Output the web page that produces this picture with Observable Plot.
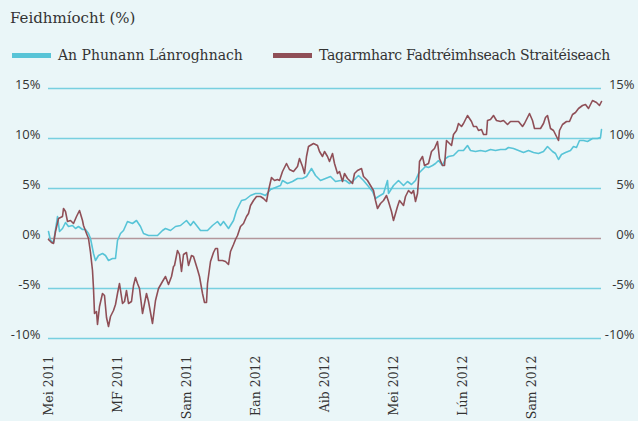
<!DOCTYPE html>
<html>
<head>
<meta charset="utf-8">
<script src="https://cdn.jsdelivr.net/npm/d3@7"></script>
<script src="https://cdn.jsdelivr.net/npm/@observablehq/plot@0.6"></script>
<style>
  html, body { margin: 0; padding: 0; background: #eaf6f8; width: 638px; height: 421px; overflow: hidden; }
  #title { height: 36px; box-sizing: border-box; padding: 9px 0 0 10px; line-height: 20px; font: 15px "DejaVu Serif"; color: #333; }
  #legend { position: relative; height: 34px; font: 14px "DejaVu Serif"; color: #333; }
  .item { position: absolute; top: 9px; height: 20px; line-height: 20px; display: flex; align-items: center; white-space: nowrap; }
  .sw { width: 39px; height: 5px; margin-right: 7px; }
  #chart svg { display: block; }
</style>
</head>
<body>
<div id="title">Feidhmíocht (%)</div>
<div id="legend"></div>
<div id="chart"></div>
<script>
// Series names and colours
const seriesNames = ["An Phunann Lánroghnach", "Tagarmharc Fadtréimhseach Straitéiseach"];
const seriesColors = ["#58c4d7", "#8f4f57"];

// Trading-day index (0 .. 553) and performance values (%)
const dayPortfolio = [0,2,5,9,11,14,17,20,24,27,30,34,37,40,42,45,47,50,54,57,60,64,67,69,72,75,79,84,88,92,95,100,105,109,114,117,122,127,132,138,142,145,152,159,164,169,172,175,180,185,188,190,193,197,202,207,212,217,222,227,232,234,239,244,249,254,258,263,267,272,277,282,287,292,297,301,305,310,315,320,324,327,330,335,339,340,345,350,355,359,363,367,370,374,377,380,384,387,390,394,397,400,405,410,415,419,422,427,432,437,442,447,452,457,460,465,470,475,480,485,490,495,499,504,507,510,513,517,522,525,528,531,535,539,544,549,552,553];
const valPortfolio = [0.7,-0.2,-0.4,2.2,0.7,1.0,1.6,1.2,1.3,1.0,1.2,0.9,0.9,0.5,0.0,-1.5,-2.2,-1.7,-1.5,-1.7,-2.2,-2.0,-2.0,-0.2,0.5,0.8,1.7,1.5,1.8,1.2,0.5,0.3,0.3,0.3,0.8,1.0,0.8,1.2,1.3,1.8,1.3,1.7,0.8,0.8,1.3,1.7,1.3,1.7,1.0,1.8,2.8,3.2,3.8,3.9,4.3,4.5,4.5,4.3,4.9,5.1,5.3,5.8,5.5,5.7,6.0,6.0,6.2,7.0,6.3,5.8,6.0,6.2,5.7,5.8,5.8,5.5,5.8,6.3,5.8,5.2,4.7,4.0,4.2,4.5,5.8,4.5,5.3,5.8,5.3,5.7,5.4,5.8,6.5,6.9,7.2,7.1,7.3,7.5,7.8,7.3,8.0,8.2,8.3,8.8,8.8,9.3,8.8,8.7,8.8,8.7,8.9,8.8,8.9,8.9,9.1,9.0,8.8,8.6,8.8,8.6,8.5,8.7,9.2,8.7,8.5,7.9,8.4,8.6,8.8,9.2,9.1,9.8,9.8,9.7,10.0,10.0,10.1,10.9];

const dayBenchmark = [0,3,5,7,10,14,15,17,19,22,25,28,31,34,35,38,40,42,44,45,46,48,49,51,54,56,58,60,62,65,67,69,71,74,76,78,80,83,85,87,89,91,94,96,98,100,104,107,110,114,117,120,123,125,126,129,131,133,135,138,140,143,145,149,151,154,156,158,159,162,165,167,169,170,174,177,180,182,185,187,189,192,195,198,200,202,205,208,212,215,218,220,223,226,229,231,234,238,241,245,249,251,254,256,258,260,265,269,271,274,276,279,281,284,286,289,291,294,296,299,301,304,306,309,313,315,319,322,325,327,329,332,335,338,340,343,345,349,351,355,357,360,363,365,367,369,370,371,374,376,380,383,386,389,391,394,396,398,401,403,405,408,410,413,415,419,423,425,428,430,433,435,438,439,442,445,448,452,455,459,462,467,470,474,476,479,481,484,486,489,492,495,497,499,502,505,508,510,511,514,518,521,524,527,530,534,537,540,544,548,551,553];
const valBenchmark = [-0.1,-0.4,-0.5,0.7,2.0,2.2,3.0,2.7,1.7,1.8,1.5,2.2,2.8,1.8,1.3,0.5,0.0,-1.4,-3.2,-5.0,-7.5,-7.3,-8.6,-6.8,-5.5,-5.7,-7.9,-8.8,-7.8,-7.2,-6.6,-5.5,-4.5,-6.5,-6.3,-5.2,-6.5,-6.3,-4.7,-3.9,-4.5,-5.0,-7.5,-6.5,-5.5,-6.3,-8.5,-6.2,-5.0,-4.3,-3.8,-4.6,-3.8,-2.8,-2.7,-1.2,-1.6,-3.3,-1.6,-1.4,-2.7,-1.7,-1.8,-3.1,-3.8,-5.5,-6.4,-6.4,-4.5,-2.3,-1.4,-1.0,-1.0,-2.2,-2.2,-2.3,-2.6,-1.3,-0.6,-0.1,0.3,1.2,1.5,2.2,2.5,3.3,3.8,4.2,4.2,4.0,3.7,4.8,6.1,5.8,5.9,5.8,6.7,7.5,6.9,6.7,7.2,8.0,7.2,6.5,8.2,9.2,9.5,9.3,8.7,8.2,8.7,8.2,7.7,8.5,7.5,6.5,6.7,5.7,6.5,6.0,5.8,5.5,6.5,6.8,7.0,6.2,5.8,5.3,4.8,3.8,3.0,3.5,3.8,4.3,3.7,2.7,1.8,3.2,3.8,3.3,4.2,4.8,4.5,4.8,3.7,4.5,5.8,7.7,8.2,7.3,7.5,8.7,9.0,9.7,8.0,7.3,7.3,9.8,9.5,9.3,10.4,10.8,11.5,11.2,11.5,12.3,11.7,11.2,11.2,10.8,10.9,10.4,10.4,11.8,11.9,12.3,11.8,11.7,11.8,11.4,11.7,11.7,11.7,11.2,11.5,12.1,12.5,11.8,11.0,11.0,11.0,11.5,12.1,12.3,11.0,10.8,10.2,9.8,10.8,11.4,11.7,11.7,12.4,12.6,13.0,13.3,13.4,13.0,13.8,13.6,13.3,13.7];

// Axis ticks
const yTicks = [15, 10, 5, 0, -5, -10];
const xTickDays = [0, 69, 138, 207, 276, 345, 414, 483];
const xTickLabels = ["Mei 2011", "MF 2011", "Sam 2011", "Ean 2012", "Aib 2012", "Mei 2012", "Lún 2012", "Sam 2012"];

// Legend
const legend = document.getElementById("legend");
const legendLeft = [12, 273];
const legendSpacing = ["0px", "-0.3px"];
seriesNames.forEach((n, i) => {
  const it = document.createElement("div");
  it.className = "item";
  it.style.left = legendLeft[i] + "px";
  it.innerHTML = `<span class="sw" style="background:${seriesColors[i]}"></span><span style="letter-spacing:${legendSpacing[i]}">${n}</span>`;
  legend.appendChild(it);
});

const portfolio = dayPortfolio.map((d, i) => ({day: d, value: valPortfolio[i]}));
const benchmark = dayBenchmark.map((d, i) => ({day: d, value: valBenchmark[i]}));
const labelOf = new Map(xTickDays.map((d, i) => [d, xTickLabels[i]]));

const chart = Plot.plot({
  width: 638,
  height: 351,
  marginTop: 18,
  marginBottom: 83,
  marginLeft: 48,
  marginRight: 37,
  style: {background: "transparent", color: "#333"},
  x: {domain: [0, 553], axis: null},
  y: {domain: [-10, 15], axis: null},
  marks: [
    Plot.ruleY(yTicks.filter(d => d !== 0), {stroke: "#78d0e0", strokeWidth: 1.5}),
    Plot.ruleY([0], {stroke: "#b3979c", strokeWidth: 1.5}),
    Plot.line(portfolio, {x: "day", y: "value", stroke: seriesColors[0], strokeWidth: 1.6}),
    Plot.line(benchmark, {x: "day", y: "value", stroke: seriesColors[1], strokeWidth: 1.6}),
    Plot.axisY(yTicks, {anchor: "left", tickSize: 0, tickPadding: 8, tickFormat: d => `${d}%`, fontFamily: "Open Sans", fontSize: 13, dy: -4, label: null}),
    Plot.axisY(yTicks, {anchor: "right", tickSize: 0, tickPadding: 0, textAnchor: "end", dx: 33, tickFormat: d => `${d}%`, fontFamily: "Open Sans", fontSize: 13, dy: -4, label: null}),
    Plot.axisX(xTickDays, {anchor: "bottom", tickSize: 0, tickPadding: 17, tickRotate: -90, tickFormat: d => labelOf.get(d), fontFamily: "DejaVu Serif", fontSize: 12.5, label: null})
  ]
});
document.getElementById("chart").appendChild(chart);
</script>
</body>
</html>
